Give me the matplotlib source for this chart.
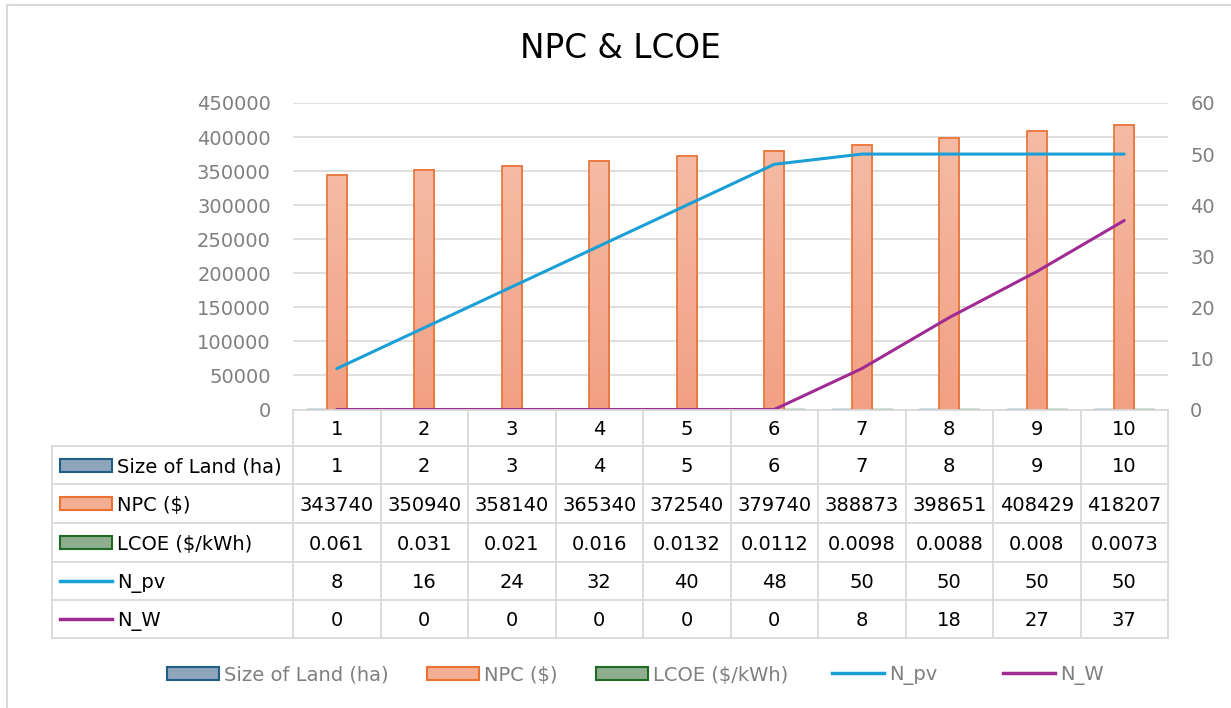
import matplotlib
matplotlib.use("Agg")
import matplotlib.pyplot as plt
import matplotlib.patches as mpatches
import matplotlib.lines as mlines
import matplotlib.transforms as mtrans
from matplotlib.colors import LinearSegmentedColormap
import numpy as np

# data
categories = ["1", "2", "3", "4", "5", "6", "7", "8", "9", "10"]
size_of_land = [1, 2, 3, 4, 5, 6, 7, 8, 9, 10]
npc = [343740, 350940, 358140, 365340, 372540, 379740, 388873, 398651, 408429, 418207]
lcoe = [0.061, 0.031, 0.021, 0.016, 0.0132, 0.0112, 0.0098, 0.0088, 0.008, 0.0073]
n_pv = [8, 16, 24, 32, 40, 48, 50, 50, 50, 50]
n_w = [0, 0, 0, 0, 0, 0, 8, 18, 27, 37]

W, H = 1231, 708
def fx(px):
    return px / W
def fy(py):
    return 1 - py / H

plt.rcParams['font.family'] = 'DejaVu Sans'
fs = 14
grey = '#7F7F7F'
gridc = '#D9D9D9'

land_face, land_edge = '#8EA5BC', '#1F5E86'
npc_face, npc_edge = '#F4AE93', '#E97132'
lcoe_face, lcoe_edge = '#8FAE8F', '#1E6B24'
pv_col = '#1A9FD6'
w_col = '#A02B93'

fig = plt.figure(figsize=(W / 100, H / 100), dpi=100)

# chart area frame
fig.add_artist(mlines.Line2D([fx(7), 1], [fy(4.5), fy(4.5)], color=gridc, lw=1.5))
fig.add_artist(mlines.Line2D([fx(7), fx(7)], [fy(4.5), 0], color=gridc, lw=1.5))

fig.text(fx(620), fy(58), "NPC & LCOE", ha='center', va='baseline', fontsize=23.5, color='black')

left, right, top, bottom = 293, 1168, 103, 409.5
ax = fig.add_axes([fx(left), fy(bottom), fx(right) - fx(left), (bottom - top) / H])
x = np.arange(len(categories))
bw = 0.229

ax.bar(x - bw, size_of_land, bw, color=land_face, edgecolor=land_edge, lw=1, zorder=3)
npc_bars = ax.bar(x, npc, bw, facecolor='none', edgecolor=npc_edge, lw=1.2, zorder=3)
ax.bar(x + bw, lcoe, bw, color=lcoe_face, edgecolor=lcoe_edge, lw=1, zorder=3)

ax.set_xlim(-0.5, len(categories) - 0.5)
ax.set_ylim(0, 450000)

# soft vertical gradient fill inside each NPC bar
npc_cmap = LinearSegmentedColormap.from_list("npc", ['#F2A083', '#F5BBA5'])
grad = np.linspace(0, 1, 256).reshape(-1, 1)
for b in npc_bars:
    bx, by = b.get_x(), b.get_y()
    ax.imshow(grad, cmap=npc_cmap, origin='lower', aspect='auto', zorder=2.5,
              extent=(bx, bx + b.get_width(), by, by + b.get_height()))
ax.set_xlim(-0.5, len(categories) - 0.5)
ax.set_ylim(0, 450000)

ax.set_yticks(np.arange(0, 450001, 50000))
ax.set_yticklabels([str(v) for v in range(0, 450001, 50000)])
ax.tick_params(axis='y', length=0, pad=16, labelsize=fs, labelcolor=grey)
ax.set_xticks([])
ax.grid(axis='y', color=gridc, lw=1.2, zorder=0)
for s in ax.spines.values():
    s.set_visible(False)

ax2 = ax.twinx()
ax2.plot(x, n_pv, color=pv_col, lw=2.2, solid_capstyle='round', zorder=4)
ax2.plot(x, n_w, color=w_col, lw=2.2, solid_capstyle='round', zorder=4)
ax2.set_ylim(0, 60)
ax2.set_yticks(np.arange(0, 61, 10))
ax2.tick_params(axis='y', length=0, pad=16, labelsize=fs, labelcolor=grey)
for s in ax2.spines.values():
    s.set_visible(False)

# data table under the plot
tr = mtrans.blended_transform_factory(ax.transData, fig.transFigure)
rows = [409.5, 446, 484, 523, 562, 600, 638]
tab_left = 52
edges = np.arange(len(categories) + 1) - 0.5

def hline(y, x0, x1):
    fig.add_artist(mlines.Line2D([x0, x1], [fy(y), fy(y)], color=gridc, lw=1.3))

hline(rows[0], fx(left), fx(right))
for y in rows[1:]:
    hline(y, fx(tab_left), fx(right))
fig.add_artist(mlines.Line2D([fx(tab_left)] * 2, [fy(rows[1]), fy(rows[-1])], color=gridc, lw=1.3))
for e in edges:
    ax_x = fig.transFigure.inverted().transform(ax.transData.transform((e, 0)))[0]
    fig.add_artist(mlines.Line2D([ax_x, ax_x], [fy(rows[0]), fy(rows[-1])], color=gridc, lw=1.3))

row_values = [
    categories,
    [str(v) for v in size_of_land],
    [str(v) for v in npc],
    [f"{v:g}" for v in lcoe],
    [str(v) for v in n_pv],
    [str(v) for v in n_w],
]
for r, vals in enumerate(row_values):
    yc = (rows[r] + rows[r + 1]) / 2
    for i, v in enumerate(vals):
        fig.text(i, fy(yc), v, transform=tr, ha='center', va='center_baseline',
                 fontsize=fs, color='black')

series_names = ["Size of Land (ha)", "NPC ($)", "LCOE ($/kWh)", "N_pv", "N_W"]
series_keys = [("bar", land_face, land_edge), ("bar", npc_face, npc_edge),
               ("bar", lcoe_face, lcoe_edge), ("line", pv_col, None), ("line", w_col, None)]

def draw_key(kind, c1, c2, x0, yc, w=52, h=13, text_color='black', label=""):
    if kind == "bar":
        fig.add_artist(mpatches.Rectangle((fx(x0), fy(yc + h / 2)), w / W, h / H,
                                          facecolor=c1, edgecolor=c2, lw=1.5))
    else:
        fig.add_artist(mlines.Line2D([fx(x0), fx(x0 + w)], [fy(yc), fy(yc)], color=c1, lw=2.5))
    fig.text(fx(x0 + w + 5), fy(yc), label, ha='left', va='center_baseline',
             fontsize=fs, color=text_color)

for r, (name, key) in enumerate(zip(series_names, series_keys)):
    yc = (rows[r + 1] + rows[r + 2]) / 2
    draw_key(key[0], key[1], key[2], 60, yc, label=name)

# bottom legend
legend_x = [167, 427, 596, 832, 1003]
for lx, name, key in zip(legend_x, series_names, series_keys):
    draw_key(key[0], key[1], key[2], lx, 673, w=52, h=13, text_color=grey, label=name)

fig.savefig("out.png", dpi=100, facecolor='white')
